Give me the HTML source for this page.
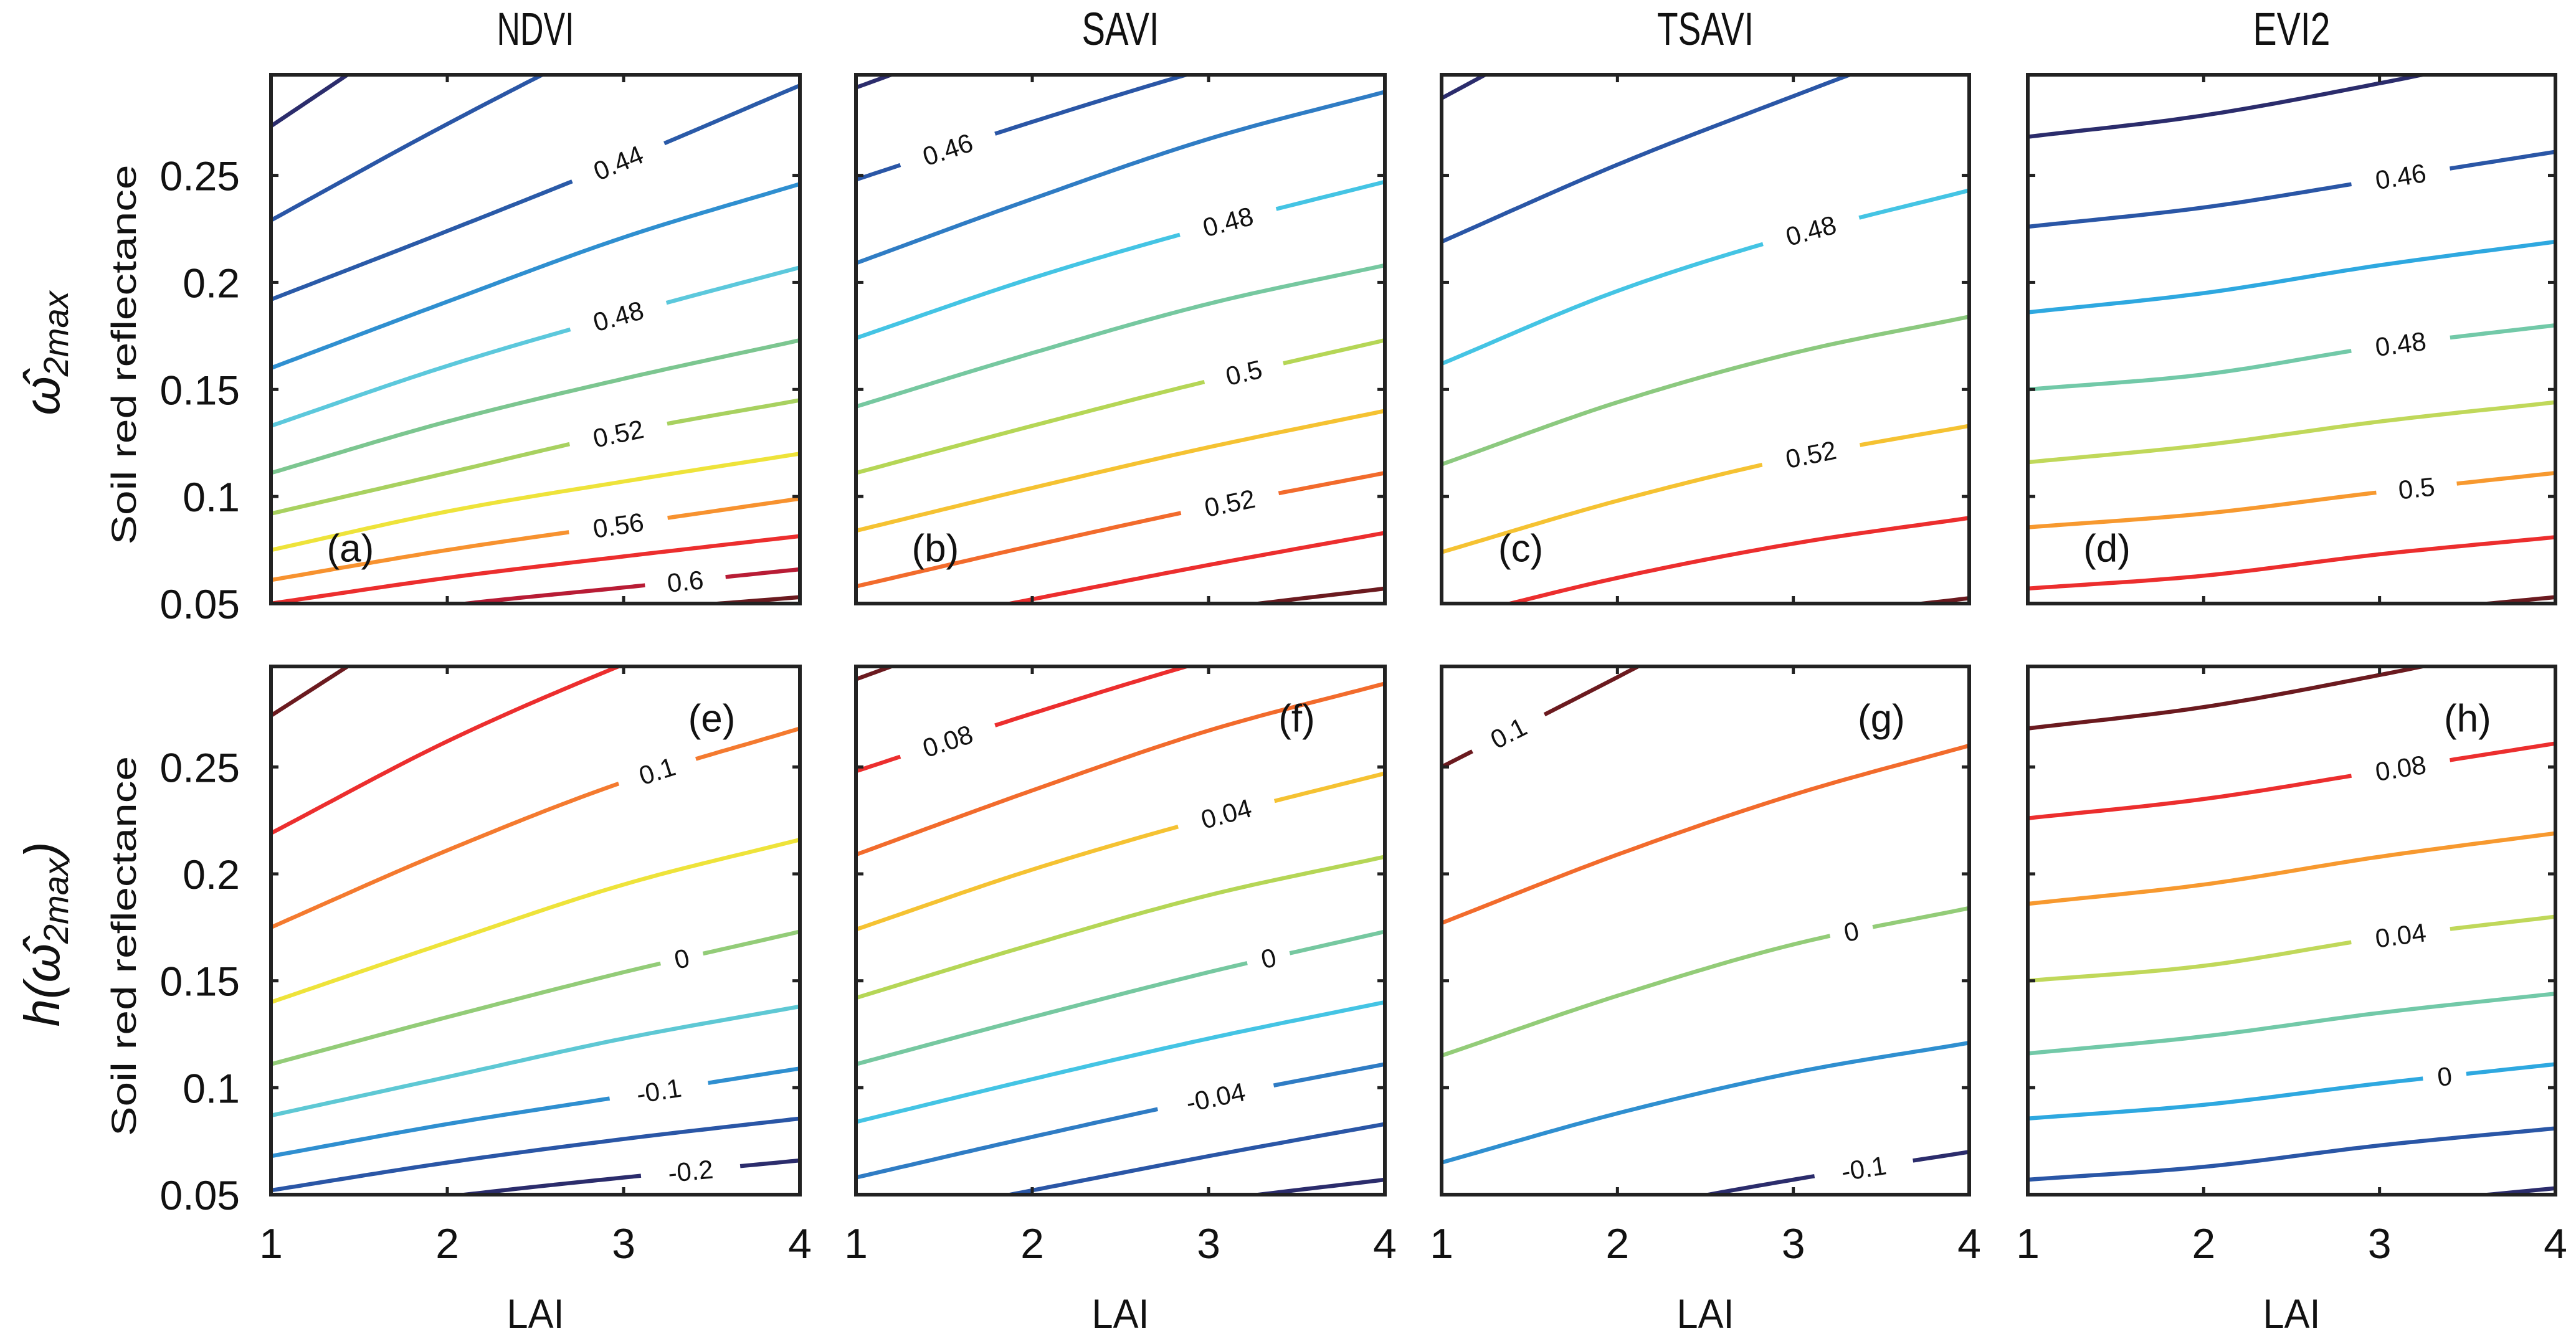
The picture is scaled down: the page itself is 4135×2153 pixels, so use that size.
<!DOCTYPE html>
<html><head><meta charset="utf-8"><style>
html,body{margin:0;padding:0;background:#fff;}
svg{display:block;}
text{font-family:"Liberation Sans",sans-serif;fill:#111;}
</style></head>
<body>
<svg id="fig" width="4135" height="2153" viewBox="0 0 4135 2153" xmlns="http://www.w3.org/2000/svg">
<defs></defs>
<g id="root"></g>
</svg>
<script>
// ---- data ----
const xTicks = [1, 2, 3, 4];
const xTickLabels = ['1', '2', '3', '4'];
const yTicks = [0.05, 0.1, 0.15, 0.2, 0.25];
const yTickLabels = ['0.05', '0.1', '0.15', '0.2', '0.25'];
const laiSamples = [1, 2, 3, 4];
const titles = ['NDVI', 'SAVI', 'TSAVI', 'EVI2'];
const panelLetters = ['(a)', '(b)', '(c)', '(d)', '(e)', '(f)', '(g)', '(h)'];

const ndviLines = [
  [0.273, 0.328, 0.380, 0.430],
  [0.229, 0.274, 0.316, 0.355],
  [0.192, 0.224, 0.257, 0.292],
  [0.160, 0.191, 0.221, 0.246],
  [0.133, 0.161, 0.185, 0.207],
  [0.111, 0.135, 0.155, 0.173],
  [0.092, 0.111, 0.130, 0.145],
  [0.075, 0.093, 0.107, 0.120],
  [0.061, 0.075, 0.087, 0.099],
  [0.050, 0.062, 0.072, 0.0815],
  [0.038, 0.049, 0.0575, 0.066],
  [0.025, 0.035, 0.046, 0.053]
];
const ndviColors = ['#2b2c6c','#2a56a6','#2a5aa8','#2f8fd0','#5cc8dc','#7cc690','#a8d160','#eee33a','#f7922f','#ec2e2e','#b81c35','#6b1a1f'];
const ndviLabelLine = [2, 4, 6, 8, 10];
const ndviLabelText = ['0.44', '0.48', '0.52', '0.56', '0.6'];
const ndviLabelLai = [2.97, 2.97, 2.97, 2.97, 3.35];

const saviLines = [
  [0.291, 0.321, 0.351, 0.381],
  [0.248, 0.275, 0.300, 0.322],
  [0.209, 0.239, 0.267, 0.289],
  [0.174, 0.202, 0.226, 0.247],
  [0.142, 0.167, 0.190, 0.208],
  [0.111, 0.133, 0.154, 0.173],
  [0.084, 0.104, 0.123, 0.140],
  [0.058, 0.077, 0.095, 0.111],
  [0.036, 0.052, 0.068, 0.083],
  [0.020, 0.035, 0.047, 0.057]
];
const saviColors = ['#2b2c6c','#2a56a6','#2f7cc4','#44c4e4','#76c8a0','#b5d656','#f5c232','#f26b2c','#ec2e2e','#6b1a1f'];
const saviLabelLine = [1, 3, 5, 7];
const saviLabelText = ['0.46', '0.48', '0.5', '0.52'];
const saviLabelLai = [1.52, 3.11, 3.2, 3.12];

const tsaviLines = [
  [0.286, 0.330, 0.370, 0.410],
  [0.219, 0.255, 0.287, 0.318],
  [0.162, 0.196, 0.222, 0.243],
  [0.115, 0.144, 0.167, 0.184],
  [0.074, 0.098, 0.118, 0.133],
  [0.042, 0.062, 0.078, 0.090],
  [0.023, 0.033, 0.043, 0.0525]
];
const tsaviColors = ['#2b2c6c','#2a56a6','#44c4e4','#8cc97f','#f5c232','#ec2e2e','#6b1a1f'];
const tsaviLabelLine = [2, 4];
const tsaviLabelText = ['0.48', '0.52'];
const tsaviLabelLai = [3.1, 3.1];

const evi2Lines = [
  [0.268, 0.278, 0.293, 0.310],
  [0.226, 0.235, 0.248, 0.261],
  [0.186, 0.195, 0.208, 0.219],
  [0.150, 0.157, 0.170, 0.180],
  [0.116, 0.124, 0.135, 0.144],
  [0.0856, 0.092, 0.102, 0.111],
  [0.057, 0.063, 0.073, 0.081],
  [0.030, 0.036, 0.045, 0.053]
];
const evi2Colors = ['#2b2c6c','#2a56a6','#2ea8e0','#72c9a8','#c0d85a','#f7992f','#ec2e2e','#6b1a1f'];
const evi2LabelLine = [1, 3, 5];
const evi2LabelText = ['0.46', '0.48', '0.5'];
const evi2LabelLai = [3.12, 3.12, 3.21];

const hNdviLines = [
  [0.274, 0.327, 0.380, 0.430],
  [0.219, 0.262, 0.298, 0.330],
  [0.175, 0.211, 0.243, 0.268],
  [0.140, 0.168, 0.195, 0.216],
  [0.111, 0.133, 0.154, 0.173],
  [0.087, 0.105, 0.123, 0.138],
  [0.068, 0.083, 0.096, 0.109],
  [0.052, 0.065, 0.076, 0.0856],
  [0.038, 0.049, 0.058, 0.066]
];
const hNdviColors = ['#6b1a1f','#ec2e2e','#f47a2f','#eee33a','#93cc78','#5ec8d4','#2f8fd0','#2a56a6','#2b2c6c'];
const hNdviLabelLine = [2, 4, 6, 8];
const hNdviLabelText = ['0.1', '0', '-0.1', '-0.2'];
const hNdviLabelLai = [3.19, 3.33, 3.2, 3.38];

const hSaviLines = [
  [0.291, 0.321, 0.351, 0.381],
  [0.248, 0.275, 0.300, 0.322],
  [0.209, 0.239, 0.267, 0.289],
  [0.174, 0.202, 0.226, 0.247],
  [0.142, 0.167, 0.190, 0.208],
  [0.111, 0.133, 0.154, 0.173],
  [0.084, 0.104, 0.123, 0.140],
  [0.058, 0.077, 0.095, 0.111],
  [0.036, 0.052, 0.068, 0.083],
  [0.020, 0.035, 0.047, 0.057]
];
const hSaviColors = ['#6b1a1f','#ec2e2e','#f26b2c','#f5c232','#b5d656','#76c8a0','#44c4e4','#2f7cc4','#2a56a6','#2b2c6c'];
const hSaviLabelLine = [1, 3, 5, 7];
const hSaviLabelText = ['0.08', '0.04', '0', '-0.04'];
const hSaviLabelLai = [1.52, 3.1, 3.34, 3.04];

const hTsaviLines = [
  [0.250, 0.292, 0.335, 0.375],
  [0.177, 0.209, 0.237, 0.260],
  [0.115, 0.143, 0.167, 0.184],
  [0.065, 0.088, 0.107, 0.121],
  [0.025, 0.042, 0.057, 0.070]
];
const hTsaviColors = ['#6b1a1f','#f26b2c','#93cc78','#2f8fd0','#2b2c6c'];
const hTsaviLabelLine = [0, 2, 4];
const hTsaviLabelText = ['0.1', '0', '-0.1'];
const hTsaviLabelLai = [1.38, 3.33, 3.4];

const hEvi2Lines = [
  [0.268, 0.278, 0.293, 0.310],
  [0.226, 0.235, 0.248, 0.261],
  [0.186, 0.195, 0.208, 0.219],
  [0.150, 0.157, 0.170, 0.180],
  [0.116, 0.124, 0.135, 0.144],
  [0.0856, 0.092, 0.102, 0.111],
  [0.057, 0.063, 0.073, 0.081],
  [0.030, 0.036, 0.045, 0.053]
];
const hEvi2Colors = ['#6b1a1f','#ec2e2e','#f7992f','#c0d85a','#72c9a8','#2ea8e0','#2a56a6','#2b2c6c'];
const hEvi2LabelLine = [1, 3, 5];
const hEvi2LabelText = ['0.08', '0.04', '0'];
const hEvi2LabelLai = [3.12, 3.12, 3.37];

// ---- layout ----
const NS = 'http://www.w3.org/2000/svg';
const root = document.getElementById('root');
const defs = document.querySelector('defs');
const colX = [[435, 1284], [1374, 2223], [2314, 3161], [3255, 4102]];
const rowY = [[120, 969], [1070, 1918]];
const xDom = [1, 4], yDom = [0.05, 0.297];

const panels = [
  {lines: ndviLines, colors: ndviColors, lab: [ndviLabelLine, ndviLabelText, ndviLabelLai]},
  {lines: saviLines, colors: saviColors, lab: [saviLabelLine, saviLabelText, saviLabelLai]},
  {lines: tsaviLines, colors: tsaviColors, lab: [tsaviLabelLine, tsaviLabelText, tsaviLabelLai]},
  {lines: evi2Lines, colors: evi2Colors, lab: [evi2LabelLine, evi2LabelText, evi2LabelLai]},
  {lines: hNdviLines, colors: hNdviColors, lab: [hNdviLabelLine, hNdviLabelText, hNdviLabelLai]},
  {lines: hSaviLines, colors: hSaviColors, lab: [hSaviLabelLine, hSaviLabelText, hSaviLabelLai]},
  {lines: hTsaviLines, colors: hTsaviColors, lab: [hTsaviLabelLine, hTsaviLabelText, hTsaviLabelLai]},
  {lines: hEvi2Lines, colors: hEvi2Colors, lab: [hEvi2LabelLine, hEvi2LabelText, hEvi2LabelLai]}
];

function mk(tag, attrs, parent) {
  const e = document.createElementNS(NS, tag);
  for (const k in attrs) e.setAttribute(k, attrs[k]);
  (parent || root).appendChild(e);
  return e;
}
function interp(vals, t) {
  // Catmull-Rom through sample points with linear phantom endpoints
  const n = vals.length;
  const P = i => i < 0 ? 2 * vals[0] - vals[1] : (i >= n ? 2 * vals[n - 1] - vals[n - 2] : vals[i]);
  let i = Math.floor(t - laiSamples[0]);
  if (i < 0) i = 0; if (i > n - 2) i = n - 2;
  const u = t - laiSamples[i];
  const p0 = P(i - 1), p1 = P(i), p2 = P(i + 1), p3 = P(i + 2);
  return 0.5 * ((2 * p1) + (-p0 + p2) * u + (2 * p0 - 5 * p1 + 4 * p2 - p3) * u * u + (-p0 + 3 * p1 - 3 * p2 + p3) * u * u * u);
}

panels.forEach((p, pi) => {
  const col = pi % 4, row = Math.floor(pi / 4);
  const [x0, x1] = colX[col], [y0, y1] = rowY[row];
  const sx = v => x0 + (v - xDom[0]) / (xDom[1] - xDom[0]) * (x1 - x0);
  const sy = v => y1 - (v - yDom[0]) / (yDom[1] - yDom[0]) * (y1 - y0);
  const g = mk('g', {});
  
  
  const cp = mk('clipPath', {id: 'clip' + pi}, defs);
  mk('rect', {x: x0, y: y0, width: x1 - x0, height: y1 - y0}, cp);
  const lg = mk('g', {'clip-path': 'url(#clip' + pi + ')'}, g);
  p.lines.forEach((vals, li) => {
    let d = '';
    for (let t = 1; t <= 4.0001; t += 0.05) {
      d += (d ? 'L' : 'M') + sx(t).toFixed(1) + ',' + sy(interp(vals, t)).toFixed(1);
    }
    const path = mk('path', {d: d, fill: 'none', stroke: p.colors[li], 'stroke-width': 6.5, 'stroke-linecap': 'butt'}, lg);
    
    
  });
  const [lLine, lText, lLai] = p.lab;
  lLine.forEach((li, k) => {
    const t = lLai[k];
    const px = sx(t), py = sy(interp(p.lines[li], t));
    const dx = sx(t + 0.05) - sx(t - 0.05);
    const dy = sy(interp(p.lines[li], t + 0.05)) - sy(interp(p.lines[li], t - 0.05));
    const ang = Math.atan2(dy, dx) * 180 / Math.PI;
    const w = 40 + lText[k].length * 30;
    const lgp = mk('g', {transform: `translate(${px.toFixed(1)},${py.toFixed(1)}) rotate(${ang.toFixed(1)})`}, lg);
    
    
    mk('rect', {x: -w / 2, y: -22, width: w, height: 44, fill: '#fff'}, lgp);
    const tx = mk('text', {x: 0, y: 15, 'text-anchor': 'middle', 'font-size': 42}, lgp);
    tx.textContent = lText[k];
  });
  const fr = mk('rect', {x: x0, y: y0, width: x1 - x0, height: y1 - y0, fill: 'none', stroke: '#222', 'stroke-width': 6}, g);
  
  
  yTicks.forEach((v, i) => {
    const y = sy(v);
    mk('line', {x1: x0, x2: x0 + 12, y1: y, y2: y, stroke: '#222', 'stroke-width': 5}, g);
    mk('line', {x1: x1, x2: x1 - 12, y1: y, y2: y, stroke: '#222', 'stroke-width': 5}, g);
    if (col === 0) {
      const tl = mk('text', {x: x0 - 50, y: y + 24, 'text-anchor': 'end', 'font-size': 66}, g);
      
      
      tl.textContent = yTickLabels[i];
    }
  });
  xTicks.forEach((v, i) => {
    const x = sx(v);
    mk('line', {x1: x, x2: x, y1: y0, y2: y0 + 12, stroke: '#222', 'stroke-width': 5}, g);
    mk('line', {x1: x, x2: x, y1: y1, y2: y1 - 12, stroke: '#222', 'stroke-width': 5}, g);
    if (row === 1) {
      const tl = mk('text', {x: x, y: 2020, 'text-anchor': 'middle', 'font-size': 68}, g);
      
      
      tl.textContent = xTickLabels[i];
    }
  });
  const lx = row === 0 ? sx(1.45) : sx(3.5);
  const ly = row === 0 ? sy(0.076) : sy(0.273);
  const pl = mk('text', {x: lx, y: ly + 22, 'text-anchor': 'middle', 'font-size': 62}, g);
  
  
  pl.textContent = panelLetters[pi];
  if (row === 0) {
    const tt = mk('text', {x: (x0 + x1) / 2, y: 72, 'text-anchor': 'middle', 'font-size': 74, textLength: titles[col].length * 31, lengthAdjust: 'spacingAndGlyphs'}, g);
    
    
    tt.textContent = titles[col];
  } else {
    const xl = mk('text', {x: (x0 + x1) / 2, y: 2132, 'text-anchor': 'middle', 'font-size': 66, textLength: 92, lengthAdjust: 'spacingAndGlyphs'}, g);
    
    
    xl.textContent = 'LAI';
  }
});

[0, 1].forEach(r => {
  const cy = (rowY[r][0] + rowY[r][1]) / 2 + 25;
  const t = mk('text', {x: 0, y: 0, transform: `translate(218,${cy}) rotate(-90)`, 'text-anchor': 'middle', 'font-size': 56, 'font-family': 'Liberation Mono, monospace', textLength: 610, lengthAdjust: 'spacingAndGlyphs'});
  
  
  t.textContent = 'Soil red reflectance';
});
const m1 = mk('text', {x: 0, y: 0, transform: 'translate(95,567) rotate(-90)', 'text-anchor': 'middle', 'font-size': 80, 'font-family': 'Liberation Serif, serif', 'font-style': 'italic'});


m1.innerHTML = 'ω̂<tspan font-size="56" dy="14">2max</tspan>';
const m2 = mk('text', {x: 0, y: 0, transform: 'translate(95,1500) rotate(-90)', 'text-anchor': 'middle', 'font-size': 80, 'font-family': 'Liberation Serif, serif', 'font-style': 'italic'});


m2.innerHTML = 'h(ω̂<tspan font-size="56" dy="14">2max</tspan><tspan dy="-14">)</tspan>';
</script>
</body></html>
